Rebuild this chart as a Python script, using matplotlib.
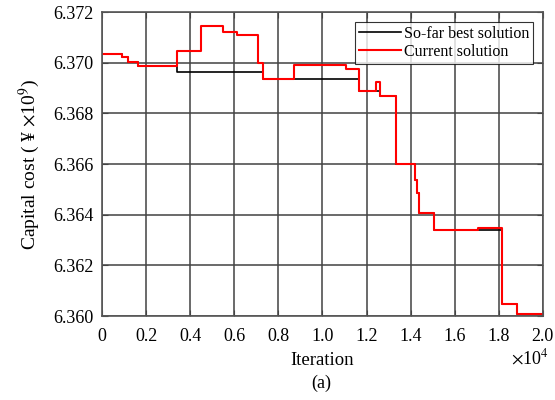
import numpy as np
import matplotlib.pyplot as plt

plt.rcParams['font.family'] = ['Liberation Serif', 'DejaVu Serif']
plt.rcParams['mathtext.fontset'] = 'stix'

# iteration (x 1e4) where the value changes, and the value from there on
cur_x = [0, 0.089, 0.117, 0.165, 0.339, 0.449, 0.547, 0.611, 0.706, 0.732, 0.871,
         1.105, 1.167, 1.243, 1.261, 1.333, 1.420, 1.427, 1.438, 1.506, 1.707,
         1.817, 1.883, 2.0]
cur_y = [6.37033, 6.37024, 6.37004, 6.36986, 6.37047, 6.37146, 6.37120, 6.37110,
         6.37000, 6.36934, 6.36991, 6.36974, 6.36889, 6.36922, 6.36868, 6.36600,
         6.36537, 6.36484, 6.36405, 6.36340, 6.36346, 6.36046, 6.36008, 6.36008]

best_x = [0, 0.089, 0.117, 0.165, 0.339, 0.732, 1.167, 1.261, 1.333, 1.420, 1.427,
          1.438, 1.506, 1.817, 1.883, 2.0]
best_y = [6.37033, 6.37024, 6.37004, 6.36986, 6.36964, 6.36934, 6.36889, 6.36868,
          6.36600, 6.36537, 6.36484, 6.36405, 6.36340, 6.36046, 6.36008, 6.36008]

fig = plt.figure(figsize=(5.55, 4.0), dpi=100)
ax = fig.add_axes([0.184, 0.21, 0.794, 0.76])

ax.plot(best_x, best_y, drawstyle='steps-post', color='k', lw=1.2, label='So-far best solution')
ax.plot(cur_x, cur_y, drawstyle='steps-post', color='red', lw=1.5, label='Current solution')

ax.set_xlim(0, 2.0)
ax.set_ylim(6.360, 6.372)
ax.set_xticks(np.arange(0, 2.01, 0.2))
ax.set_xticklabels(['0'] + ['%.1f' % v for v in np.arange(0.2, 2.01, 0.2)])
ax.set_yticks(np.arange(6.360, 6.3721, 0.002))
ax.set_yticklabels(['%.3f' % v for v in np.arange(6.360, 6.3721, 0.002)])
ax.grid(True, color='#444444', lw=1.4, alpha=0.8)
ax.tick_params(direction='in', top=True, right=True, labelsize=13, color='#444444', length=4)
ax.tick_params(axis='y', pad=6)
ax.tick_params(axis='x', pad=8.5)
for s in ax.spines.values():
    s.set_color('#555555')
    s.set_linewidth(1.2)

ax.set_xlabel('Iteration', fontsize=13.5, labelpad=5)
ax.set_ylabel(r'Capital cost ( ¥ $\times$10$^9$)', fontsize=14, labelpad=8)
fig.text(0.955, 0.105, r'$\times$10$^4$', fontsize=13, ha='center', va='center')
fig.text(0.578, 0.0425, '(a)', fontsize=13, ha='center', va='center')

leg = ax.legend(loc='upper right', fontsize=11.5, frameon=True, fancybox=False,
                edgecolor='k', borderpad=0.25, labelspacing=0.15, handlelength=2.6,
                handletextpad=0.2, borderaxespad=0.6)
leg.get_frame().set_linewidth(0.8)

fig.savefig('out.png', dpi=100)
